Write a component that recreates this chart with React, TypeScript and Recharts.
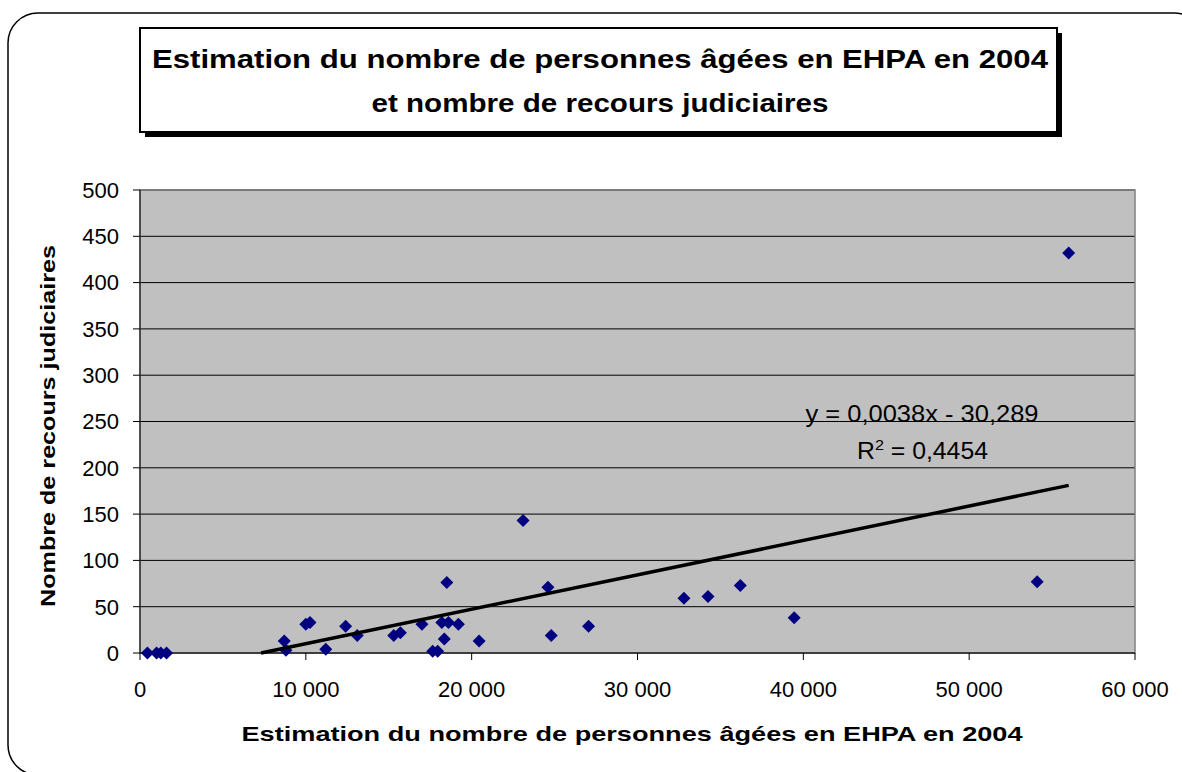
import React from 'react';
import {
  ScatterChart,
  Scatter,
  XAxis,
  YAxis,
  CartesianGrid,
  ReferenceArea,
} from 'recharts';

// Estimation du nombre de personnes âgées en EHPA (x) / recours judiciaires (y)
const residents = [
  450, 1000, 1250, 1600, 8700, 8800, 10000, 10250, 11200, 12400, 13100, 15300,
  15700, 17000, 17650, 17950, 18500, 18200, 18600, 19200, 18350, 20450, 23100,
  24600, 24800, 27050, 32800, 34250, 36200, 39450, 54100, 56000,
];
const recours = [
  0, 0, 0, 0, 13, 3, 31, 33, 4, 29, 19, 19, 22, 31, 2, 2, 76, 33, 33, 31, 15,
  13, 143, 71, 19, 29, 59, 61, 73, 38, 77, 432,
];

// droite de tendance (extrémités)
const trendX = [7300, 56000];
const trendY = [0, 181];

const xTicks = [0, 10000, 20000, 30000, 40000, 50000, 60000];
const yTicks = [0, 50, 100, 150, 200, 250, 300, 350, 400, 450, 500];

const titleLines = [
  'Estimation du nombre de personnes âgées en EHPA en 2004',
  'et nombre de recours judiciaires',
];
const xTitle = 'Estimation du nombre de personnes âgées en EHPA en 2004';
const yTitle = 'Nombre de recours judiciaires';
const equation = 'y = 0,0038x - 30,289';
const r2Value = ' = 0,4454';

const points = residents.map((x, i) => ({ x, y: recours[i] }));
const trend = trendX.map((x, i) => ({ x, y: trendY[i] }));

const FONT = '"Liberation Sans", Arial, sans-serif';

const Diamond = (props: any) => {
  const { cx, cy } = props;
  const r = 6.5;
  return (
    <polygon
      points={`${cx},${cy - r} ${cx + r},${cy} ${cx},${cy + r} ${cx - r},${cy}`}
      fill="#000080"
    />
  );
};

const formatThousands = (v: number) => (v === 0 ? '0' : `${v / 1000} 000`);

const App: React.FC = () => {
  return (
    <div style={{ position: 'absolute', left: 0, top: 0, width: 1182, height: 772, background: '#fff', fontFamily: FONT }}>
      <ScatterChart
        width={1182}
        height={772}
        margin={{ top: 190, right: 47, bottom: 79, left: 80 }}
      >
        <CartesianGrid vertical={false} stroke="#000" fill="#C0C0C0" fillOpacity={1} />
        <ReferenceArea x1={0} x2={60000} y1={0} y2={500} fill="none" stroke="#808080" strokeWidth={1.5} ifOverflow="visible" />
        <XAxis
          type="number"
          dataKey="x"
          domain={[0, 60000]}
          ticks={xTicks}
          tickFormatter={formatThousands}
          height={40}
          tickSize={7}
          tickMargin={21}
          stroke="#000"
          tick={{ fill: '#000', fontSize: 22, fontFamily: FONT }}
        />
        <YAxis
          type="number"
          dataKey="y"
          domain={[0, 500]}
          ticks={yTicks}
          width={60}
          tickSize={7}
          tickMargin={14}
          stroke="#000"
          tick={{ fill: '#000', fontSize: 22, fontFamily: FONT }}
        />
        <Scatter data={points} shape={Diamond} isAnimationActive={false} />
        <Scatter
          data={trend}
          line={{ stroke: '#000', strokeWidth: 3.5 }}
          lineType="joint"
          shape={() => <g />}
          isAnimationActive={false}
        />
      </ScatterChart>

      <svg
        width={1182}
        height={772}
        style={{ position: 'absolute', left: 0, top: 0, pointerEvents: 'none' }}
      >
        {/* cadre arrondi du graphique */}
        <rect x={8} y={13} width={1196} height={762} rx={30} ry={30} fill="none" stroke="#000" strokeWidth={1.5} />

        {/* titre encadré avec ombre */}
        <rect x={145} y={33} width={917} height={104} fill="#000" />
        <rect x={140} y={28} width={917} height={104} fill="#fff" stroke="#000" strokeWidth={2} />
        <text x={600} y={68} textAnchor="middle" fontSize={26} fontWeight="bold" fontFamily={FONT} textLength={896} lengthAdjust="spacingAndGlyphs">
          {titleLines[0]}
        </text>
        <text x={600} y={112} textAnchor="middle" fontSize={26} fontWeight="bold" fontFamily={FONT} textLength={457} lengthAdjust="spacingAndGlyphs">
          {titleLines[1]}
        </text>

        {/* titres des axes */}
        <text x={632} y={741} textAnchor="middle" fontSize={21} fontWeight="bold" fontFamily={FONT} textLength={781} lengthAdjust="spacingAndGlyphs">
          {xTitle}
        </text>
        <text
          x={0}
          y={0}
          transform="translate(55,426) rotate(-90)"
          textAnchor="middle"
          fontSize={21}
          fontWeight="bold"
          fontFamily={FONT}
          textLength={362}
          lengthAdjust="spacingAndGlyphs"
        >
          {yTitle}
        </text>

        {/* équation de la tendance */}
        <text x={922} y={422} textAnchor="middle" fontSize={23} fontFamily={FONT} textLength={233} lengthAdjust="spacingAndGlyphs">
          {equation}
        </text>
        <text x={857} y={459} fontSize={23} fontFamily={FONT} textLength={131} lengthAdjust="spacingAndGlyphs">
          R
          <tspan dy={-9} fontSize={15}>2</tspan>
          <tspan dy={9}>{r2Value}</tspan>
        </text>
      </svg>
    </div>
  );
};

export default App;
